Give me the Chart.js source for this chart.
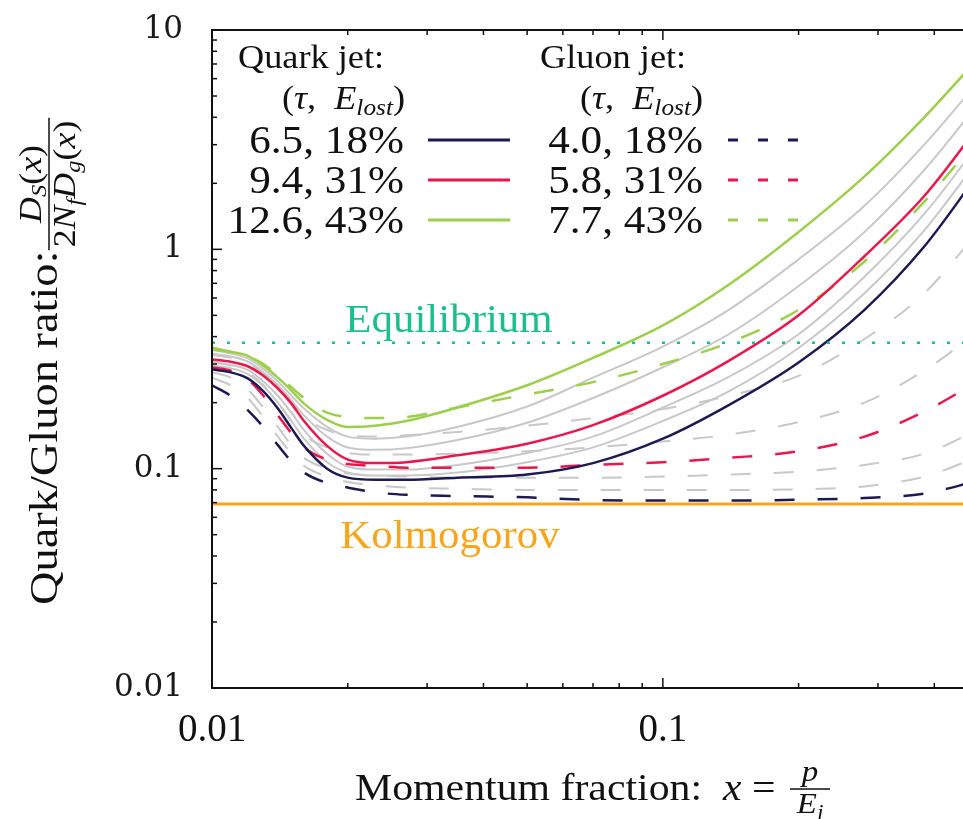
<!DOCTYPE html>
<html>
<head>
<meta charset="utf-8">
<script src="https://cdn.jsdelivr.net/npm/chart.js@4.4.1/dist/chart.umd.min.js"></script>
<style>
  html, body { margin: 0; padding: 0; background: #fff; overflow: hidden; }
  #wrap { width: 963px; height: 819px; overflow: hidden; }
</style>
</head>
<body>
<div id="wrap"><canvas id="ratio" width="990" height="819"></canvas></div>
<script>
// momentum fraction samples shared by every curve
const xs = [0.01, 0.011, 0.012, 0.013, 0.014, 0.015, 0.016, 0.018, 0.02, 0.023,
            0.027, 0.035, 0.05, 0.07, 0.1, 0.14, 0.2, 0.28, 0.38, 0.5];

// quark jets (solid), lowest to highest tau
const quarkTau65  = [0.283, 0.275, 0.258, 0.225, 0.188, 0.153, 0.127, 0.1, 0.091, 0.089, 0.089, 0.091, 0.094, 0.106, 0.137, 0.195, 0.305, 0.53, 1.03, 2.2];
const quarkGray1  = [0.295, 0.287, 0.27, 0.238, 0.2, 0.165, 0.137, 0.107, 0.096, 0.093, 0.093, 0.096, 0.107, 0.125, 0.165, 0.225, 0.355, 0.63, 1.22, 2.55];
const quarkGray2  = [0.305, 0.297, 0.282, 0.25, 0.215, 0.18, 0.15, 0.117, 0.102, 0.099, 0.099, 0.104, 0.118, 0.14, 0.19, 0.262, 0.41, 0.75, 1.45, 3.0];
const quarkTau94  = [0.315, 0.307, 0.293, 0.265, 0.232, 0.198, 0.165, 0.127, 0.11, 0.106, 0.107, 0.115, 0.13, 0.158, 0.215, 0.31, 0.5, 0.93, 1.75, 3.6];
const quarkGray3  = [0.335, 0.325, 0.308, 0.275, 0.24, 0.205, 0.175, 0.14, 0.125, 0.122, 0.124, 0.135, 0.162, 0.21, 0.29, 0.41, 0.68, 1.2, 2.3, 4.6];
const quarkGray4  = [0.348, 0.335, 0.318, 0.285, 0.25, 0.215, 0.188, 0.155, 0.14, 0.137, 0.14, 0.155, 0.192, 0.26, 0.36, 0.53, 0.9, 1.58, 3.0, 5.8];
const quarkTau126 = [0.356, 0.341, 0.327, 0.295, 0.26, 0.227, 0.198, 0.167, 0.155, 0.157, 0.165, 0.19, 0.24, 0.32, 0.45, 0.69, 1.2, 2.15, 4.0, 7.4];

// gluon jets (dashed)
const gluonTau40 = [0.24, 0.215, 0.185, 0.155, 0.128, 0.108, 0.096, 0.086, 0.082, 0.078, 0.076, 0.075, 0.074, 0.072, 0.0715, 0.0715, 0.0722, 0.0735, 0.077, 0.088];
const gluonGray1 = [0.26, 0.24, 0.21, 0.172, 0.14, 0.117, 0.103, 0.092, 0.087, 0.084, 0.082, 0.081, 0.08, 0.08, 0.08, 0.08, 0.0805, 0.083, 0.092, 0.113];
const gluonGray2 = [0.275, 0.26, 0.23, 0.19, 0.155, 0.128, 0.112, 0.1, 0.095, 0.093, 0.092, 0.091, 0.091, 0.091, 0.092, 0.094, 0.097, 0.104, 0.117, 0.15];
const gluonTau58 = [0.29, 0.28, 0.255, 0.215, 0.175, 0.145, 0.125, 0.11, 0.105, 0.103, 0.101, 0.101, 0.101, 0.104, 0.107, 0.112, 0.12, 0.14, 0.182, 0.25];
const gluonGray3 = [0.31, 0.295, 0.275, 0.24, 0.2, 0.165, 0.142, 0.125, 0.118, 0.116, 0.116, 0.117, 0.12, 0.125, 0.133, 0.143, 0.163, 0.2, 0.28, 0.42];
const gluonGray4 = [0.33, 0.32, 0.3, 0.27, 0.235, 0.2, 0.172, 0.15, 0.142, 0.14, 0.142, 0.147, 0.157, 0.17, 0.187, 0.215, 0.265, 0.39, 0.63, 1.2];
const gluonTau77 = [0.35, 0.34, 0.325, 0.3, 0.265, 0.235, 0.21, 0.18, 0.172, 0.17, 0.172, 0.19, 0.218, 0.248, 0.3, 0.375, 0.53, 0.88, 1.65, 3.2];

// reference levels
const equilibrium = 0.375;
const kolmogorov = 0.069;

// legend rows: (tau, E_lost)
const quarkLabels = ['6.5, 18%', '9.4, 31%', '12.6, 43%'];
const gluonLabels = ['4.0, 18%', '5.8, 31%', '7.7, 43%'];

// axis ticks
const xTickValues = [0.01, 0.1];
const yTickValues = [0.01, 0.1, 1, 10];

const NAVY = '#1d1a52', RED = '#e8174c', GREEN = '#9dcf4d', GRAY = '#c8c8c8';
const TEAL = '#1cbf8c', ORANGE = '#f7a51d';
const SERIF = '"Liberation Serif", "Times New Roman", serif';
const DASH = [20, 23];

const pts = arr => xs.map((x, i) => ({ x, y: arr[i] }));

function curve(arr, color, dashed, width, order) {
  return {
    data: pts(arr),
    borderColor: color,
    borderWidth: width,
    borderDash: dashed ? DASH : [],
    cubicInterpolationMode: 'monotone',
    pointRadius: 0,
    fill: false,
    order
  };
}

function level(y, color, width, dash) {
  return {
    data: [{ x: 0.01, y }, { x: 0.5, y }],
    borderColor: color,
    borderWidth: width,
    borderDash: dash,
    pointRadius: 0,
    fill: false,
    order: 0
  };
}

const datasets = [
  level(equilibrium, TEAL, 2.5, [3, 12]),
  level(kolmogorov, ORANGE, 3, []),
  curve(quarkTau65, NAVY, false, 2.5, 1),
  curve(quarkTau94, RED, false, 2.5, 1),
  curve(quarkTau126, GREEN, false, 2.5, 1),
  curve(gluonTau40, NAVY, true, 2.5, 1),
  curve(gluonTau58, RED, true, 2.5, 1),
  curve(gluonTau77, GREEN, true, 2.5, 1),
  curve(quarkGray1, GRAY, false, 2, 2),
  curve(quarkGray2, GRAY, false, 2, 2),
  curve(quarkGray3, GRAY, false, 2, 2),
  curve(quarkGray4, GRAY, false, 2, 2),
  curve(gluonGray1, GRAY, true, 2, 3),
  curve(gluonGray2, GRAY, true, 2, 3),
  curve(gluonGray3, GRAY, true, 2, 3),
  curve(gluonGray4, GRAY, true, 2, 3)
];

// text made of styled runs (italic, subscripts), stretched a little sideways
function fontOf(r) {
  return (r.it ? 'italic ' : '') + r.size + 'px ' + SERIF;
}
function runsWidth(c, runs, sx) {
  let w = 0;
  runs.forEach(r => { c.font = fontOf(r); w += c.measureText(r.t).width * sx; });
  return w;
}
function drawRuns(c, runs, x, y, align, color, sx) {
  const w = runsWidth(c, runs, sx);
  let cx = align === 'center' ? x - w / 2 : align === 'right' ? x - w : x;
  c.fillStyle = color;
  c.textAlign = 'left';
  c.textBaseline = 'alphabetic';
  runs.forEach(r => {
    c.font = fontOf(r);
    c.save();
    c.translate(cx, y + (r.dy || 0));
    c.scale(sx, 1);
    c.fillText(r.t, 0, 0);
    c.restore();
    cx += c.measureText(r.t).width * sx;
  });
}
const plain = (t, size) => [{ t, size }];

const tauElost = size => [
  { t: '(', size }, { t: 'τ', size, it: true }, { t: ',  ', size },
  { t: 'E', size, it: true }, { t: 'lost', size: Math.round(size * 0.7), it: true, dy: 6 },
  { t: ')', size }
];

const framePlugin = {
  id: 'frame',
  afterDatasetsDraw(chart) {
    const c = chart.ctx;
    const { left, right, top, bottom } = chart.chartArea;
    const xs_ = chart.scales.x, ys_ = chart.scales.y;
    c.save();
    c.strokeStyle = '#111';
    c.lineWidth = 2;
    c.strokeRect(left, top, right - left, bottom - top);

    // inward tick marks, long at decades
    c.lineWidth = 1.5;
    const tick = (x1, y1, x2, y2) => { c.beginPath(); c.moveTo(x1, y1); c.lineTo(x2, y2); c.stroke(); };
    for (let d = 0.01; d < 0.6; d *= 10) {
      for (let k = 1; k <= 9; k++) {
        const v = d * k;
        if (v < 0.01 || v > 0.5 + 1e-9) continue;
        const px = xs_.getPixelForValue(v);
        const len = k === 1 ? 10 : 5;
        tick(px, bottom, px, bottom - len);
        tick(px, top, px, top + len);
      }
    }
    for (let d = 0.01; d < 11; d *= 10) {
      for (let k = 1; k <= 9; k++) {
        const v = d * k;
        if (v > 10 + 1e-9) continue;
        const py = ys_.getPixelForValue(v);
        const len = k === 1 ? 10 : 5;
        tick(left, py, left + len, py);
        tick(right, py, right - len, py);
      }
    }
    c.restore();
  },
  afterDraw(chart) {
    const c = chart.ctx;
    const ys_ = chart.scales.y;
    const sx = 1.1;
    c.save();

    // level labels
    drawRuns(c, plain('Equilibrium', 39), 449, ys_.getPixelForValue(equilibrium) - 11, 'center', TEAL, sx);
    drawRuns(c, plain('Kolmogorov', 39), 450, ys_.getPixelForValue(kolmogorov) + 44, 'center', ORANGE, sx);

    // legend block
    drawRuns(c, plain('Quark jet:', 33), 238, 68, 'left', '#111', sx);
    drawRuns(c, tauElost(33), 405, 109, 'right', '#111', sx);
    drawRuns(c, plain('Gluon jet:', 33), 540, 68, 'left', '#111', sx);
    drawRuns(c, tauElost(33), 703, 109, 'right', '#111', sx);
    const rowY = [140, 180, 220];
    const rowColor = [NAVY, RED, GREEN];
    rowY.forEach((y, i) => {
      drawRuns(c, plain(quarkLabels[i], 40), 404, y + 13, 'right', '#111', 1.08);
      drawRuns(c, plain(gluonLabels[i], 40), 703, y + 13, 'right', '#111', 1.08);
      c.strokeStyle = rowColor[i];
      c.lineWidth = 3;
      c.setLineDash([]);
      c.beginPath(); c.moveTo(428, y); c.lineTo(510, y); c.stroke();
      c.setLineDash([10, 20]);
      c.beginPath(); c.moveTo(728, y); c.lineTo(800, y); c.stroke();
    });
    c.setLineDash([]);

    // x axis title: Momentum fraction: x = p / E_j
    const xt = [{ t: 'Momentum fraction:  ', size: 38 }, { t: 'x', size: 38, it: true }, { t: ' = ', size: 38 }];
    const wt = runsWidth(c, xt, sx);
    drawRuns(c, xt, 355, 800, 'left', '#111', sx);
    const fx = 355 + wt + 24;
    drawRuns(c, [{ t: 'p', size: 30, it: true }], fx, 781, 'center', '#111', sx);
    c.strokeStyle = '#111'; c.lineWidth = 1.5;
    c.beginPath(); c.moveTo(fx - 20, 789); c.lineTo(fx + 20, 789); c.stroke();
    drawRuns(c, [{ t: 'E', size: 30, it: true }, { t: 'j', size: 21, it: true, dy: 6 }], fx, 813, 'center', '#111', sx);

    // y axis title, rotated: Quark/Gluon ratio: D_S(x) / 2 N_f D_g(x)
    c.save();
    c.translate(0, 605);
    c.rotate(-Math.PI / 2);
    drawRuns(c, plain('Quark/Gluon ratio:', 40), 0, 57, 'left', '#111', 1.16);
    c.restore();

    c.save();
    c.translate(0, 184);
    c.rotate(-Math.PI / 2);
    const num = [{ t: 'D', size: 32, it: true }, { t: 'S', size: 22, it: true, dy: 5 },
                 { t: '(', size: 32 }, { t: 'x', size: 32, it: true }, { t: ')', size: 32 }];
    const den = [{ t: '2', size: 32 }, { t: 'N', size: 32, it: true }, { t: 'f', size: 22, it: true, dy: 6 },
                 { t: 'D', size: 32, it: true }, { t: 'g', size: 22, it: true, dy: 5 },
                 { t: '(', size: 32 }, { t: 'x', size: 32, it: true }, { t: ')', size: 32 }];
    drawRuns(c, num, 0, 41, 'center', '#111', 1.12);
    const dw = runsWidth(c, den, 1.12);
    c.strokeStyle = '#111'; c.lineWidth = 1.5;
    c.beginPath(); c.moveTo(-dw / 2 - 3, 49); c.lineTo(dw / 2 + 3, 49); c.stroke();
    drawRuns(c, den, 0, 75, 'center', '#111', 1.12);
    c.restore();

    c.restore();
  }
};

const ctx = document.getElementById('ratio').getContext('2d');
new Chart(ctx, {
  type: 'line',
  data: { datasets },
  options: {
    responsive: false,
    animation: false,
    layout: { autoPadding: false, padding: { top: 30, right: 12, left: 0, bottom: 0 } },
    plugins: { legend: { display: false }, tooltip: { enabled: false }, title: { display: false } },
    scales: {
      x: {
        type: 'logarithmic',
        min: 0.01,
        max: 0.5,
        afterBuildTicks: s => { s.ticks = xTickValues.map(v => ({ value: v })); },
        afterFit: s => { s.height = 131; s.paddingLeft = 0; s.paddingRight = 0; },
        grid: { display: false, drawTicks: false },
        border: { display: false },
        ticks: {
          autoSkip: false, maxRotation: 0, padding: 19, color: '#111',
          font: { family: SERIF, size: 39 },
          callback: v => String(v)
        }
      },
      y: {
        type: 'logarithmic',
        min: 0.01,
        max: 10,
        afterBuildTicks: s => { s.ticks = yTickValues.map(v => ({ value: v })); },
        afterFit: s => { s.width = 212; s.paddingTop = 0; s.paddingBottom = 0; },
        grid: { display: false, drawTicks: false },
        border: { display: false },
        ticks: {
          autoSkip: false, padding: 29, color: '#1a1a1a',
          font: { family: '"DejaVu Serif", serif', size: 31 },
          callback: v => String(v)
        }
      }
    }
  },
  plugins: [framePlugin]
});
</script>
</body>
</html>
